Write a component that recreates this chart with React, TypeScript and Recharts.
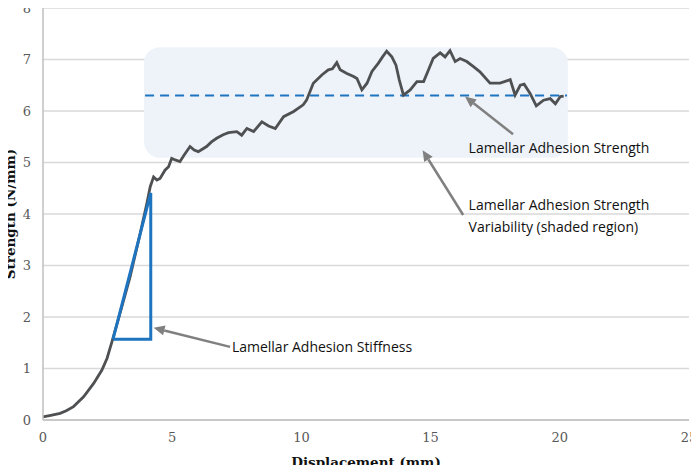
import { LineChart, Line, XAxis, YAxis, CartesianGrid, ReferenceArea, ReferenceLine, ReferenceDot } from "recharts";

// load-displacement curve
const displacement = [
  0, 0.3, 0.66, 0.9, 1.18, 1.57, 1.96, 2.28, 2.48, 2.67, 2.98, 3.37, 3.76, 4.02, 4.15, 4.28, 4.41, 4.53,
  4.72, 4.86, 4.98, 5.12, 5.3, 5.47, 5.69, 5.85, 6.01, 6.33, 6.52, 6.72, 6.97, 7.18, 7.5, 7.69, 7.89, 8.15,
  8.47, 8.73, 8.99, 9.31, 9.7, 10.07, 10.2, 10.46, 10.79, 11.04, 11.2, 11.37, 11.5, 11.76, 12.02, 12.15,
  12.34, 12.54, 12.73, 12.98, 13.14, 13.3, 13.5, 13.66, 13.79, 13.95, 14.21, 14.47, 14.73, 14.92, 15.1,
  15.37, 15.56, 15.75, 15.95, 16.14, 16.4, 16.66, 16.91, 17.3, 17.69, 18.08, 18.27, 18.47, 18.62, 18.85,
  19.09, 19.37, 19.63, 19.83, 20.02, 20.15,
];
const strength = [
  0.06, 0.09, 0.13, 0.18, 0.26, 0.45, 0.71, 0.97, 1.2, 1.52, 2.07, 2.78, 3.62, 4.21, 4.53, 4.72, 4.66, 4.69,
  4.85, 4.92, 5.08, 5.05, 5.02, 5.15, 5.31, 5.24, 5.21, 5.31, 5.4, 5.47, 5.54, 5.58, 5.6, 5.53, 5.66, 5.6,
  5.79, 5.71, 5.66, 5.89, 5.99, 6.12, 6.21, 6.54, 6.7, 6.8, 6.82, 6.94, 6.8, 6.73, 6.67, 6.63,
  6.41, 6.54, 6.77, 6.93, 7.05, 7.16, 7.05, 6.89, 6.6, 6.31, 6.41, 6.57, 6.57, 6.8, 7.02,
  7.13, 7.05, 7.17, 6.96, 7.02, 6.96, 6.86, 6.76, 6.54, 6.54, 6.61, 6.31, 6.5, 6.52, 6.34,
  6.1, 6.21, 6.24, 6.14, 6.28, 6.29,
];

// stiffness triangle corners
const triangleX = [2.71, 4.17, 4.17, 2.71];
const triangleY = [1.57, 4.41, 1.57, 1.57];

// mean strength and its variability band
const meanStrength = 6.3;
const bandX = [3.91, 20.31];
const bandY = [5.09, 7.24];

const xTicks = [0, 5, 10, 15, 20, 25];
const yTicks = [0, 1, 2, 3, 4, 5, 6, 7, 8];

const curve = displacement.map((x, i) => ({ x, y: strength[i] }));
const triangle = triangleX.map((x, i) => ({ x, y: triangleY[i] }));

const BLUE = "#1f74c0";
const GRAY_ARROW = "#808080";
const NOTE_FONT = "'Open Sans', 'Liberation Sans', sans-serif";
const AXIS_FONT = "'DejaVu Serif', 'Liberation Serif', serif";

/* ── 화살표 (ReferenceLine shape) ── */
function Arrow(props: any) {
  const { x1, y1, x2, y2 } = props;
  const ang = Math.atan2(y2 - y1, x2 - x1);
  const len = 11;
  const w = 5;
  const bx = x2 - len * Math.cos(ang);
  const by = y2 - len * Math.sin(ang);
  const px = -Math.sin(ang) * w;
  const py = Math.cos(ang) * w;
  return (
    <g>
      <line x1={x1} y1={y1} x2={bx} y2={by} stroke={GRAY_ARROW} strokeWidth={2.5} />
      <polygon points={`${x2},${y2} ${bx + px},${by + py} ${bx - px},${by - py}`} fill={GRAY_ARROW} />
    </g>
  );
}

function Note({ text }: { text: string }) {
  return (props: any) => (
    <text x={props.cx} y={props.cy} dy="0.35em" fontFamily={NOTE_FONT} fontSize={14} fill="#111">
      {text}
    </text>
  );
}

const arrows = [
  { from: { x: 7.24, y: 1.42 }, to: { x: 4.28, y: 1.79 } },
  { from: { x: 18.19, y: 5.55 }, to: { x: 16.33, y: 6.28 } },
  { from: { x: 16.26, y: 3.98 }, to: { x: 14.69, y: 5.24 } },
];

const notes = [
  { x: 7.31, y: 1.42, text: "Lamellar Adhesion Stiffness" },
  { x: 16.47, y: 5.28, text: "Lamellar Adhesion Strength" },
  { x: 16.47, y: 4.17, text: "Lamellar Adhesion Strength" },
  { x: 16.47, y: 3.74, text: "Variability (shaded region)" },
];

export default function App() {
  return (
    <div style={{ margin: -8, width: 699, height: 473, background: "#fff" }}>
      <LineChart width={699} height={473} margin={{ top: 8, right: 10, bottom: 0, left: 0 }}>
        <CartesianGrid vertical={false} stroke="#d9d9d9" strokeWidth={1.3} />
        <ReferenceArea
          x1={bandX[0]}
          x2={bandX[1]}
          y1={bandY[0]}
          y2={bandY[1]}
          shape={(p: any) => (
            <rect x={p.x} y={p.y} width={p.width} height={p.height} rx={16} ry={16} fill="#eef3fa" />
          )}
        />
        <XAxis
          type="number"
          dataKey="x"
          domain={[0, 25]}
          ticks={xTicks}
          height={53}
          tickSize={0}
          tickMargin={13}
          stroke="#bfbfbf"
          strokeWidth={1.5}
          tick={{ fontSize: 13, fill: "#595959", fontFamily: AXIS_FONT }}
          label={{
            value: "Displacement (mm)",
            position: "insideBottom",
            offset: 6,
            style: { fontSize: 13.5, fontWeight: 700, fill: "#111", fontFamily: AXIS_FONT },
          }}
        />
        <YAxis
          type="number"
          domain={[0, 8]}
          ticks={yTicks}
          width={43}
          tickSize={0}
          tickMargin={12}
          stroke="#bfbfbf"
          strokeWidth={1.5}
          tick={{ fontSize: 13, fill: "#595959", fontFamily: AXIS_FONT }}
          label={{
            value: "Strength (N/mm)",
            angle: -90,
            position: "insideLeft",
            offset: 10,
            style: { fontSize: 13.5, fontWeight: 700, fill: "#111", fontFamily: AXIS_FONT, textAnchor: "middle" },
          }}
        />
        <ReferenceLine
          segment={[
            { x: bandX[0] + 0.04, y: meanStrength },
            { x: bandX[1] - 0.03, y: meanStrength },
          ]}
          stroke={BLUE}
          strokeWidth={2}
          strokeDasharray="9 6"
        />
        <Line
          data={curve}
          dataKey="y"
          type="linear"
          stroke="#4f5052"
          strokeWidth={2.8}
          dot={false}
          isAnimationActive={false}
        />
        <Line
          data={triangle}
          dataKey="y"
          type="linear"
          stroke={BLUE}
          strokeWidth={3}
          dot={false}
          isAnimationActive={false}
        />
        {arrows.map((a, i) => (
          <ReferenceLine key={i} segment={[a.from, a.to]} shape={(p: any) => <Arrow {...p} />} />
        ))}
        {notes.map((n, i) => (
          <ReferenceDot key={i} x={n.x} y={n.y} r={0} shape={Note({ text: n.text })} />
        ))}
      </LineChart>
    </div>
  );
}
